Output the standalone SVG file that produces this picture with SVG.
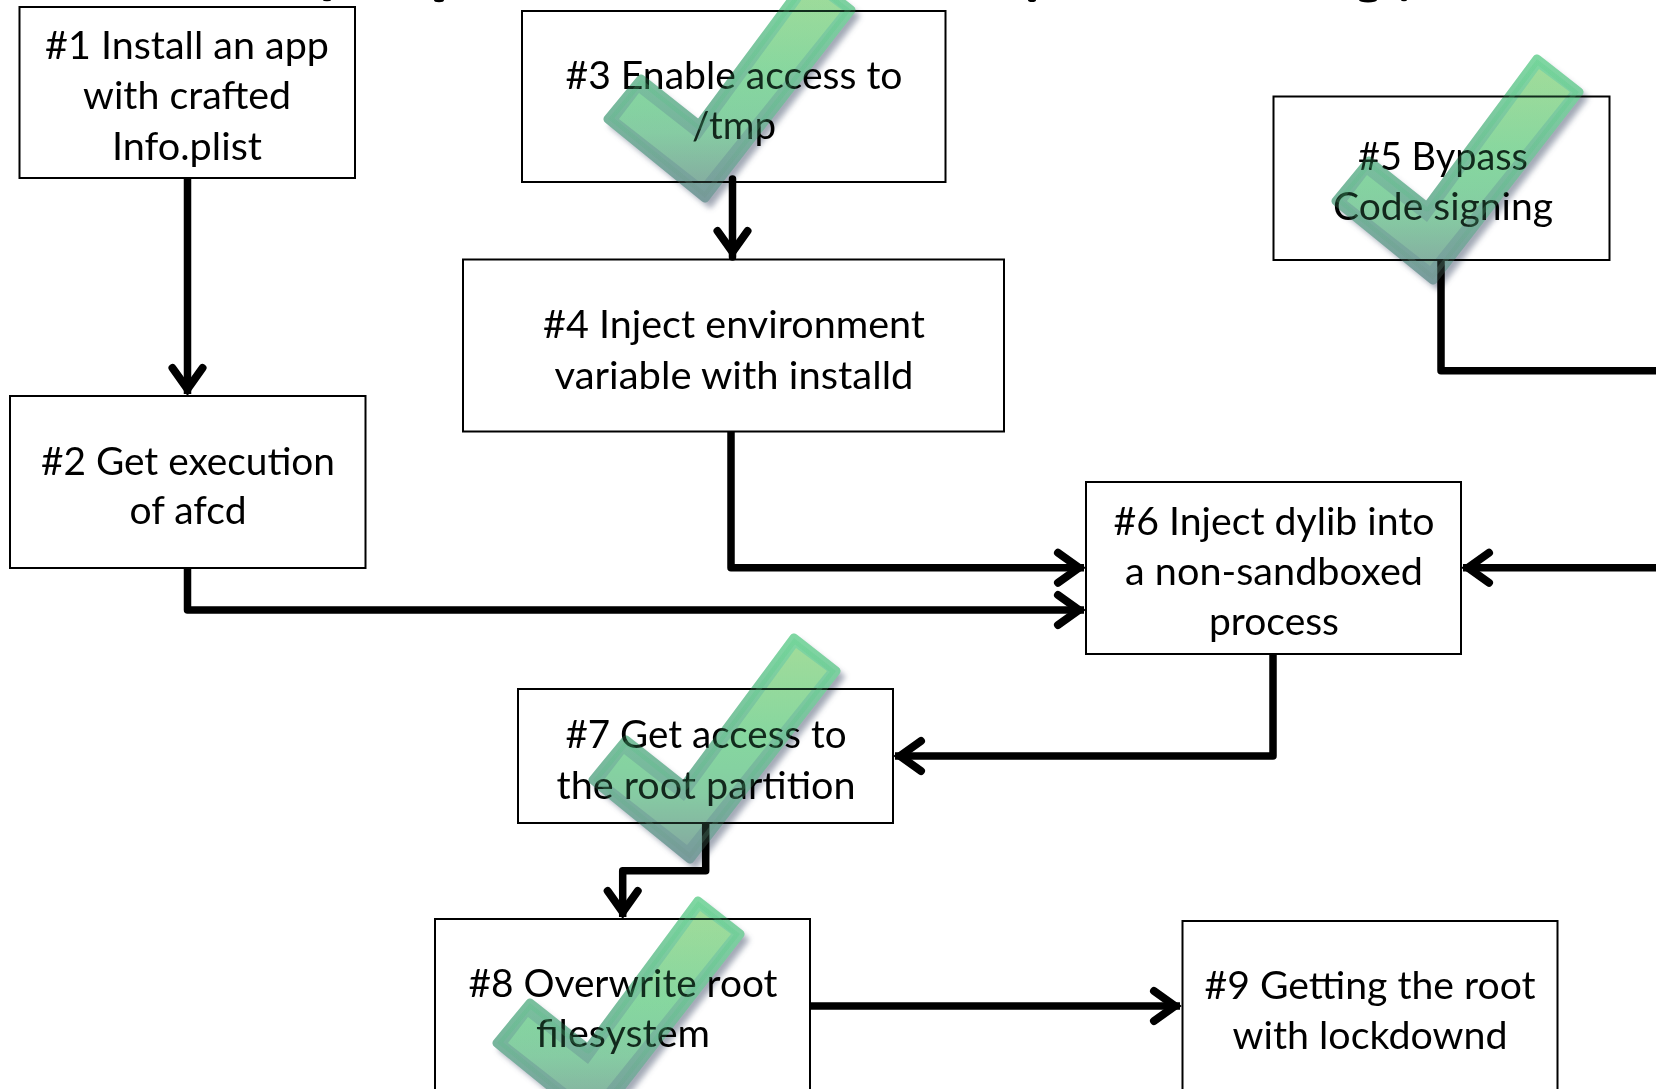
<svg xmlns="http://www.w3.org/2000/svg" width="1656" height="1089" viewBox="0 0 1656 1089">
<style>
.box{fill:#fff;stroke:#000;stroke-width:2}
.lbl{font-family:"Lato","Carlito","Liberation Sans",sans-serif;font-size:38.5px;fill:#000;text-anchor:middle}
.wire{fill:none;stroke:#000;stroke-width:7.500;stroke-linejoin:round;stroke-linecap:butt}
.wa{marker-end:url(#arrow)}
.mul{mix-blend-mode:multiply}
</style>
<defs>
<marker id="arrow" markerUnits="userSpaceOnUse" markerWidth="50" markerHeight="50" refX="0" refY="0" viewBox="-40 -25 50 50" orient="auto" overflow="visible">
<path d="M-26,-15 L-5,0 L-26,15" fill="none" stroke="#000" stroke-width="8" stroke-linecap="round" stroke-linejoin="miter" stroke-miterlimit="6"/>
</marker>
<linearGradient id="gIn" gradientUnits="userSpaceOnUse" x1="0" y1="0" x2="0" y2="230">
<stop offset="0" stop-color="#bce0a0"/><stop offset=".45" stop-color="#96dca8"/><stop offset=".7" stop-color="#93d2ac"/><stop offset="1" stop-color="#8aa8a6"/>
</linearGradient>
<linearGradient id="gOut" gradientUnits="userSpaceOnUse" x1="0" y1="0" x2="0" y2="230">
<stop offset="0" stop-color="#8ddaac"/><stop offset=".45" stop-color="#86bfa6"/><stop offset="1" stop-color="#7c9ea2"/>
</linearGradient>
<linearGradient id="gGlaze" gradientUnits="userSpaceOnUse" x1="0" y1="0" x2="0" y2="230">
<stop offset="0" stop-color="#4fcf80"/><stop offset=".6" stop-color="#4fc080"/><stop offset="1" stop-color="#6f8f88"/>
</linearGradient>
<filter id="blur" x="-20%" y="-20%" width="140%" height="140%"><feGaussianBlur stdDeviation="2.500"/></filter>
<path id="outer" d="M0,5 L42,38 L-104,226 L-201,147 L-168,107 L-110,153 Z" stroke-width="9" stroke-linejoin="round"/>
<path id="inner" d="M2,15 L33,38 L-107,212 L-190,147 L-170,121 L-110,168 Z"/>
<g id="check">
<g class="mul">
<use href="#outer" transform="translate(5,6)" fill="#5c6a80" fill-opacity=".4" stroke="#5c6a80" stroke-opacity=".4" filter="url(#blur)"/>
<use href="#outer" fill="url(#gOut)" stroke="url(#gOut)"/>
<use href="#inner" fill="url(#gIn)"/>
</g>
<use href="#outer" fill="url(#gGlaze)" fill-opacity=".22" stroke="url(#gGlaze)" stroke-opacity=".22"/>
</g>
</defs>
<rect width="1656" height="1089" fill="#fff"/>

<g id="title-remnants" fill="#000">
<ellipse cx="327" cy="0" rx="4" ry="1.2"/><ellipse cx="439" cy="0" rx="5" ry="2.2"/>
<ellipse cx="1032" cy="0" rx="4" ry="2"/><ellipse cx="1368" cy="0" rx="9" ry="2.4"/><ellipse cx="1404" cy="0" rx="3" ry="1.2"/>
</g>

<g id="node1"><rect class="box" x="19.500" y="7" width="335.500" height="171"/>
<text class="lbl" x="187" y="58.500" textLength="284" lengthAdjust="spacingAndGlyphs">#1 Install an app</text><text class="lbl" x="187" y="109" textLength="208" lengthAdjust="spacingAndGlyphs">with crafted</text><text class="lbl" x="187" y="160" textLength="150" lengthAdjust="spacingAndGlyphs">Info.plist</text></g>
<g id="node2"><rect class="box" x="10" y="396" width="355.500" height="172"/>
<text class="lbl" x="188" y="475" textLength="294" lengthAdjust="spacingAndGlyphs">#2 Get execution</text><text class="lbl" x="188" y="524" textLength="117" lengthAdjust="spacingAndGlyphs">of afcd</text></g>
<g id="node3"><rect class="box" x="522" y="11" width="423.500" height="171"/>
<text class="lbl" x="734" y="88.500" textLength="337" lengthAdjust="spacingAndGlyphs">#3 Enable access to</text><text class="lbl" x="734" y="138.500" textLength="84" lengthAdjust="spacingAndGlyphs">/tmp</text></g>
<g id="node4"><rect class="box" x="463" y="259.500" width="541" height="172"/>
<text class="lbl" x="734" y="337.500" textLength="382" lengthAdjust="spacingAndGlyphs">#4 Inject environment</text><text class="lbl" x="734" y="388.500" textLength="359" lengthAdjust="spacingAndGlyphs">variable with installd</text></g>
<g id="node5"><rect class="box" x="1273.500" y="96.500" width="336" height="163.500"/>
<text class="lbl" x="1443" y="170" textLength="170" lengthAdjust="spacingAndGlyphs">#5 Bypass</text><text class="lbl" x="1443" y="220" textLength="220" lengthAdjust="spacingAndGlyphs">Code signing</text></g>
<g id="node6"><rect class="box" x="1086" y="482" width="375" height="172"/>
<text class="lbl" x="1274" y="534.500" textLength="321" lengthAdjust="spacingAndGlyphs">#6 Inject dylib into</text><text class="lbl" x="1274" y="585" textLength="298" lengthAdjust="spacingAndGlyphs">a non-sandboxed</text><text class="lbl" x="1274" y="635" textLength="130" lengthAdjust="spacingAndGlyphs">process</text></g>
<g id="node7"><rect class="box" x="518" y="689" width="375" height="134"/>
<text class="lbl" x="706" y="748" textLength="281" lengthAdjust="spacingAndGlyphs">#7 Get access to</text><text class="lbl" x="706" y="798.500" textLength="299" lengthAdjust="spacingAndGlyphs">the root partition</text></g>
<g id="node8"><rect class="box" x="435" y="919" width="375" height="190"/>
<text class="lbl" x="623" y="996.500" textLength="309" lengthAdjust="spacingAndGlyphs">#8 Overwrite root</text><text class="lbl" x="623" y="1047" textLength="174" lengthAdjust="spacingAndGlyphs">filesystem</text></g>
<g id="node9"><rect class="box" x="1182.500" y="921" width="375" height="190"/>
<text class="lbl" x="1370" y="998.500" textLength="331" lengthAdjust="spacingAndGlyphs">#9 Getting the root</text><text class="lbl" x="1370" y="1048.500" textLength="275" lengthAdjust="spacingAndGlyphs">with lockdownd</text></g>

<g id="check3"><use href="#check" x="809" y="-28"/></g>

<g id="connectors">
<path class="wire wa" d="M187.500,178 V394"/>
<path class="wire wa" d="M732.500,179 V257" style="stroke-linecap:round"/>
<path class="wire wa" d="M731,431 V567.700 H1084"/>
<path class="wire wa" d="M187.500,568 V610 H1084"/>
<path class="wire wa" d="M1441,260 V370.700 H1662 V567.700 H1463"/>
<path class="wire wa" d="M1273,654 V756 H895"/>
<path class="wire wa" d="M705.700,823 V870.700 H622.700 V917"/>
<path class="wire wa" d="M811,1006 H1180"/>
</g>

<g id="check5"><use href="#check" x="1537" y="54"/></g>
<g id="check7"><use href="#check" x="794" y="633"/></g>
<g id="check8"><use href="#check" x="698" y="896"/></g>
</svg>
